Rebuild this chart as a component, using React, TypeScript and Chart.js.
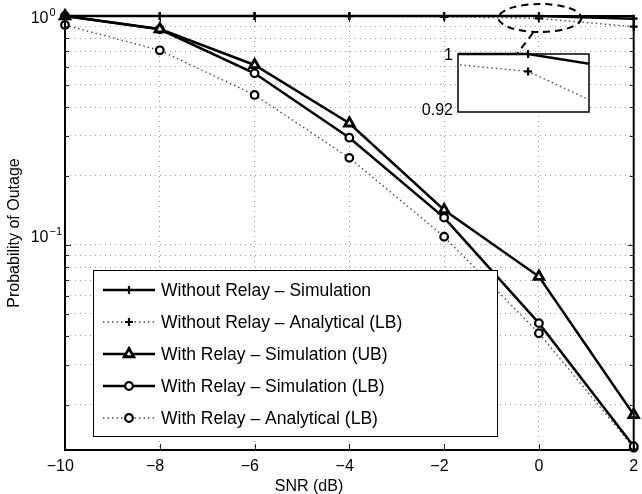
import React, { useEffect, useRef } from 'react';
import { Chart, registerables } from 'chart.js';
import { drawPoint } from 'chart.js/helpers';

Chart.register(...registerables);

const FONT = '"Liberation Sans", Arial, Helvetica, sans-serif';

// ---- data ----
const snrDb = [-10, -8, -6, -4, -2, 0, 2];
const withoutRelaySim = [1, 1, 1, 1, 1, 1, 0.973];
const withoutRelayAnalytical = [1, 1, 1, 0.999, 0.992, 0.976, 0.898];
const withRelaySimUB = [1, 0.877, 0.611, 0.34, 0.142, 0.0727, 0.0181];
const withRelaySimLB = [1, 0.875, 0.562, 0.294, 0.1315, 0.0455, 0.0132];
const withRelayAnalyticalLB = [0.913, 0.708, 0.452, 0.24, 0.1086, 0.0411, 0.013];

const seriesNames = [
  'Without Relay \u2013 Simulation',
  'Without Relay \u2013 Analytical (LB)',
  'With Relay \u2013 Simulation (UB)',
  'With Relay \u2013 Simulation (LB)',
  'With Relay \u2013 Analytical (LB)',
];
const seriesValues = [withoutRelaySim, withoutRelayAnalytical, withRelaySimUB, withRelaySimLB, withRelayAnalyticalLB];

const xTicks = [-10, -8, -6, -4, -2, 0, 2];
const yMajorTicks = [0.1, 1];
const yMajorExponents = ['\u22121', '0'];
const yMinorTicks = [0.02, 0.03, 0.04, 0.05, 0.06, 0.07, 0.08, 0.09, 0.2, 0.3, 0.4, 0.5, 0.6, 0.7, 0.8, 0.9];
const yMin = 0.0127;
const yMax = 1;
const xLabel = 'SNR (dB)';
const yLabel = 'Probability of Outage';

const insetX = [-1.15, 1];
const insetY = [0.92, 1];
const insetTickLabels = ['1', '0.92'];

// ---- styles (separate from data) ----
const seriesStyles = [
  { dotted: false, pointStyle: 'cross', radius: 4, bw: 2.2 },
  { dotted: true, pointStyle: 'cross', radius: 4, bw: 2.2 },
  { dotted: false, pointStyle: 'triangle', radius: 5.5, bw: 2.8 },
  { dotted: false, pointStyle: 'circle', radius: 3.8, bw: 2.2 },
  { dotted: true, pointStyle: 'circle', radius: 3.8, bw: 2.2 },
];

const toPoints = (ys: number[]) => snrDb.map((x, i) => ({ x, y: ys[i] }));

function makeDataset(i: number, clip: any) {
  const s = seriesStyles[i];
  return {
    label: seriesNames[i],
    data: toPoints(seriesValues[i]),
    borderColor: s.dotted ? '#4a4a4a' : '#000',
    borderWidth: s.dotted ? 1.4 : 2.5,
    borderDash: s.dotted ? [1.5, 3] : [],
    pointStyle: s.pointStyle,
    pointRadius: s.radius,
    pointBorderWidth: s.bw,
    pointBorderColor: '#000',
    pointBackgroundColor: '#fff',
    fill: false,
    tension: 0,
    clip,
  };
}

const mainDecor = {
  id: 'mainDecor',
  afterDatasetsDraw(chart: any) {
    const { ctx, chartArea: a, scales } = chart;
    const x = scales.x;
    const y = scales.y;
    ctx.save();
    ctx.setLineDash([]);

    // inner tick marks
    ctx.strokeStyle = '#222';
    ctx.lineWidth = 1;
    ctx.beginPath();
    xTicks.forEach((v) => {
      const px = Math.round(x.getPixelForValue(v)) + 0.5;
      ctx.moveTo(px, a.bottom);
      ctx.lineTo(px, a.bottom - 6);
      ctx.moveTo(px, a.top);
      ctx.lineTo(px, a.top + 6);
    });
    const yt = [...yMinorTicks.map((v) => [v, 4]), ...yMajorTicks.map((v) => [v, 6])];
    yt.forEach(([v, L]) => {
      const py = Math.round(y.getPixelForValue(v)) + 0.5;
      ctx.moveTo(a.left, py);
      ctx.lineTo(a.left + L, py);
      ctx.moveTo(a.right, py);
      ctx.lineTo(a.right - L, py);
    });
    ctx.stroke();

    // axes box
    ctx.strokeStyle = '#000';
    ctx.lineWidth = 2;
    ctx.strokeRect(a.left, a.top, a.right - a.left, a.bottom - a.top);

    // x tick labels (digits centred on tick, minus hanging left)
    ctx.fillStyle = '#000';
    ctx.font = `16px ${FONT}`;
    ctx.textBaseline = 'alphabetic';
    xTicks.forEach((v) => {
      const px = x.getPixelForValue(v);
      const digits = String(Math.abs(v));
      const w = ctx.measureText(digits).width;
      ctx.textAlign = 'center';
      ctx.fillText(digits, px, 471);
      if (v < 0) {
        ctx.textAlign = 'right';
        ctx.fillText('\u2212', px - w / 2, 471);
      }
    });

    // y tick labels 10^n
    yMajorTicks.forEach((v, i) => {
      const py = y.getPixelForValue(v);
      const base = Math.max(py - 2.7, 23.3);
      ctx.font = `16px ${FONT}`;
      ctx.textAlign = 'right';
      ctx.fillText('10', 48.5, base);
      ctx.font = `11px ${FONT}`;
      ctx.textAlign = 'left';
      ctx.fillText(yMajorExponents[i], 49.5, base - 7.5);
    });

    // axis titles
    ctx.font = `16px ${FONT}`;
    ctx.textAlign = 'center';
    ctx.textBaseline = 'middle';
    ctx.fillText(xLabel, 309, 487);
    ctx.save();
    ctx.translate(15, (a.top + a.bottom) / 2);
    ctx.rotate(-Math.PI / 2);
    ctx.fillText(yLabel, 0, 0);
    ctx.restore();

    // dashed ellipse + connector
    const cx = x.getPixelForValue(0) + 1;
    const rx = x.getPixelForValue(0.875) - x.getPixelForValue(0);
    const cy = a.top + 2;
    const ry = 14;
    ctx.setLineDash([7, 5]);
    ctx.lineWidth = 2;
    ctx.strokeStyle = '#000';
    ctx.beginPath();
    ctx.ellipse(cx, cy, rx, ry, 0, 0, Math.PI * 2);
    ctx.stroke();
    ctx.beginPath();
    ctx.moveTo(cx - 7, cy + ry + 1);
    ctx.lineTo(cx - 23, a.top + 38);
    ctx.stroke();
    ctx.setLineDash([]);

    // legend
    const lx = a.left + 28;
    const lw = 404;
    const lh = 166;
    const ly = a.bottom - 14 - lh;
    ctx.fillStyle = '#fff';
    ctx.fillRect(lx, ly, lw, lh);
    ctx.strokeStyle = '#000';
    ctx.lineWidth = 1;
    ctx.strokeRect(lx + 0.5, ly + 0.5, lw, lh);
    chart.data.datasets.forEach((ds: any, i: number) => {
      const s = seriesStyles[i];
      const ey = ly + 20 + 32 * i;
      ctx.strokeStyle = ds.borderColor;
      ctx.lineWidth = ds.borderWidth;
      ctx.setLineDash(ds.borderDash);
      ctx.beginPath();
      ctx.moveTo(lx + 10, ey);
      ctx.lineTo(lx + 62, ey);
      ctx.stroke();
      ctx.setLineDash([]);
      ctx.strokeStyle = '#000';
      ctx.fillStyle = '#fff';
      ctx.lineWidth = s.bw;
      drawPoint(ctx, { pointStyle: s.pointStyle, radius: s.radius, rotation: 0, borderWidth: s.bw } as any, lx + 36, ey);
      ctx.fillStyle = '#000';
      ctx.font = `17.5px ${FONT}`;
      ctx.textAlign = 'left';
      ctx.textBaseline = 'middle';
      ctx.fillText(ds.label, lx + 68, ey + 1);
    });

    ctx.restore();
  },
};

const insetDecor = {
  id: 'insetDecor',
  beforeDraw(chart: any) {
    const { ctx, chartArea: a } = chart;
    ctx.save();
    ctx.fillStyle = '#fff';
    ctx.fillRect(a.left, a.top, a.right - a.left, a.bottom - a.top);
    ctx.restore();
  },
  afterDatasetsDraw(chart: any) {
    const { ctx, chartArea: a, scales } = chart;
    ctx.save();
    ctx.strokeStyle = '#000';
    ctx.lineWidth = 1.5;
    ctx.setLineDash([]);
    ctx.strokeRect(a.left, a.top, a.right - a.left, a.bottom - a.top);
    ctx.fillStyle = '#000';
    ctx.font = `16px ${FONT}`;
    ctx.textAlign = 'right';
    ctx.textBaseline = 'middle';
    ctx.fillText(insetTickLabels[0], a.left - 5, scales.y.getPixelForValue(insetY[1]) + 2);
    ctx.fillText(insetTickLabels[1], a.left - 5, scales.y.getPixelForValue(insetY[0]) - 1);
    ctx.restore();
  },
};

export default function App() {
  const mainRef = useRef<HTMLCanvasElement>(null);
  const insetRef = useRef<HTMLCanvasElement>(null);

  useEffect(() => {
    const main = new Chart(mainRef.current as HTMLCanvasElement, {
      type: 'line',
      data: { datasets: seriesValues.map((_, i) => makeDataset(i, false)) as any },
      options: {
        animation: false,
        responsive: false,
        devicePixelRatio: 1,
        layout: { padding: { left: 65, right: 3, top: 16, bottom: 44 } },
        plugins: { legend: { display: false }, tooltip: { enabled: false } },
        scales: {
          x: {
            type: 'linear',
            min: -10,
            max: 2,
            bounds: 'data',
            afterBuildTicks: (s: any) => {
              s.ticks = xTicks.map((v) => ({ value: v }));
            },
            afterFit: (s: any) => {
              s.height = 0;
            },
            ticks: { display: false },
            grid: { color: '#999999', lineWidth: 1, drawTicks: false },
            border: { display: false, dash: [1, 4] },
          },
          y: {
            type: 'logarithmic',
            min: yMin,
            max: yMax,
            bounds: 'data',
            afterBuildTicks: (s: any) => {
              s.ticks = [...yMinorTicks, ...yMajorTicks].map((v) => ({ value: v }));
            },
            afterFit: (s: any) => {
              s.width = 0;
            },
            ticks: { display: false },
            grid: { color: '#999999', lineWidth: 1, drawTicks: false },
            border: { display: false, dash: [1, 4] },
          },
        },
      } as any,
      plugins: [mainDecor],
    });

    const inset = new Chart(insetRef.current as HTMLCanvasElement, {
      type: 'line',
      data: {
        datasets: [0, 1].map((i) => makeDataset(i, { left: 0, right: 0, top: 6, bottom: 0 })) as any,
      },
      options: {
        animation: false,
        responsive: false,
        devicePixelRatio: 1,
        layout: { padding: { left: 48, right: 11, top: 14, bottom: 18 } },
        plugins: { legend: { display: false }, tooltip: { enabled: false } },
        scales: {
          x: { type: 'linear', display: false, min: insetX[0], max: insetX[1] },
          y: { type: 'linear', display: false, min: insetY[0], max: insetY[1] },
        },
      } as any,
      plugins: [insetDecor],
    });

    return () => {
      main.destroy();
      inset.destroy();
    };
  }, []);

  return (
    <div style={{ position: 'absolute', left: 0, top: 0, width: 642, height: 494, background: '#fff' }}>
      <canvas ref={mainRef} width={642} height={494} style={{ position: 'absolute', left: 0, top: 0 }} />
      <canvas ref={insetRef} width={190} height={90} style={{ position: 'absolute', left: 410, top: 40 }} />
    </div>
  );
}
